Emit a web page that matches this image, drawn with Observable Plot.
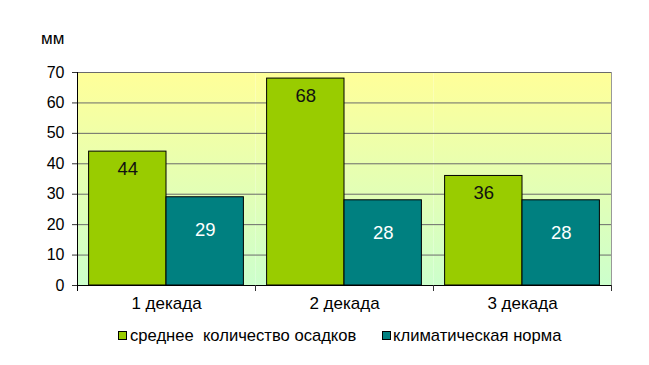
<!DOCTYPE html>
<html>
<head>
<meta charset="utf-8">
<script src="https://cdn.jsdelivr.net/npm/d3@7"></script>
<script src="https://cdn.jsdelivr.net/npm/@observablehq/plot@0.6"></script>
<style>
  html, body { margin: 0; padding: 0; background: #fff; }
  body { font-family: "Liberation Sans", Arial, sans-serif; color: #000; }
  #wrap { position: relative; width: 649px; height: 365px; overflow: hidden; }
  #unit { position: absolute; left: 41px; top: 30px; font-size: 17px; line-height: 17px; }
  .sw { position: absolute; width: 7px; height: 7px; border: 1px solid #000; }
  .lt { position: absolute; font-size: 16.6px; line-height: 17px; white-space: pre; }
</style>
</head>
<body>
<div id="wrap">
  <div id="chart"></div>
  <div id="unit">мм</div>
  <div id="legend"></div>
</div>
<script>
const decades = ["1 декада", "2 декада", "3 декада"];
const seriesNames = ["среднее  количество осадков", "климатическая норма"];
const avgValues = [44, 68, 36];
const normValues = [29, 28, 28];
const seriesColors = ["#99cc00", "#008080"];
const labelColors = ["#111111", "#ffffff"];
const labelOffsets = [17, 33];
const yTicks = [0, 10, 20, 30, 40, 50, 60, 70];

const data = [];
decades.forEach((d, i) => {
  data.push({decade: d, series: seriesNames[0], value: avgValues[i]});
  data.push({decade: d, series: seriesNames[1], value: normValues[i]});
});

const H = 320, MT = 72, MB = 35;
const plotH = H - MT - MB;

const chart = Plot.plot({
  width: 649,
  height: H,
  marginTop: MT,
  marginBottom: MB,
  marginLeft: 77,
  marginRight: 38,
  style: {fontFamily: "Liberation Sans, Arial, sans-serif", color: "#000", background: "transparent"},
  fx: {domain: decades, paddingInner: 0, paddingOuter: 0, round: false},
  x: {domain: seriesNames, paddingInner: 0, paddingOuter: 0.15, round: false, axis: null},
  y: {domain: [0, 70]},
  color: {domain: seriesNames, range: seriesColors},
  marks: [
    Plot.frame({fill: "url(#bgGrad)", stroke: null}),
    Plot.gridY(yTicks, {stroke: "#6a6a6a", strokeOpacity: 1}),
    Plot.barY(data, {fx: "decade", x: "series", y: "value", fill: "series", stroke: "#000", strokeWidth: 1}),
    ...seriesNames.map((s, i) => Plot.text(data.filter(d => d.series === s), {
      fx: "decade", x: "series", y: "value", text: d => String(d.value),
      dy: labelOffsets[i], fontSize: 18.5, fill: labelColors[i]
    })),
    Plot.ruleY([0], {stroke: "#000"}),
    Plot.frame({anchor: "left", facetAnchor: "left", insetBottom: -5, stroke: "#000"}),
    Plot.frame({anchor: "right", facetAnchor: "right", stroke: "#999"}),
    Plot.frame({anchor: "right", insetTop: plotH, insetBottom: -5, stroke: "#333"}),
    Plot.axisY(yTicks, {anchor: "left", tickSize: 5, tickPadding: 8, fontSize: 16, label: null, stroke: "#333"}),
    Plot.axisFx({anchor: "bottom", tickSize: 0, tickPadding: 11, fontSize: 17, label: null})
  ]
});

// background gradient for the plot area
const defs = d3.select(chart).insert("defs", ":first-child");
const g = defs.append("linearGradient").attr("id", "bgGrad")
  .attr("x1", 0).attr("y1", 0).attr("x2", 0).attr("y2", 1);
g.append("stop").attr("offset", "0%").attr("stop-color", "#ffff99");
g.append("stop").attr("offset", "100%").attr("stop-color", "#ccffcc");

document.getElementById("chart").appendChild(chart);

// legend below the chart
const legend = document.getElementById("legend");
const legendPos = [{sx: 118, tx: 130}, {sx: 382, tx: 393}];
seriesNames.forEach((name, i) => {
  const sw = document.createElement("div");
  sw.className = "sw";
  sw.style.left = legendPos[i].sx + "px";
  sw.style.top = "331px";
  sw.style.background = seriesColors[i];
  legend.appendChild(sw);
  const t = document.createElement("div");
  t.className = "lt";
  t.style.left = legendPos[i].tx + "px";
  t.style.top = "327px";
  t.textContent = name;
  legend.appendChild(t);
});
</script>
</body>
</html>
